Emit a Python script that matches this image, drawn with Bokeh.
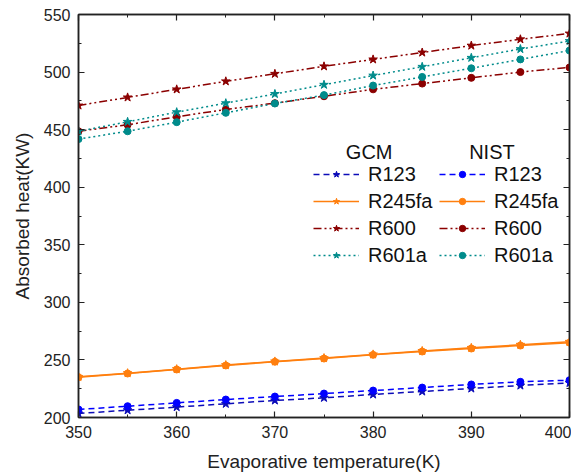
from bokeh.plotting import figure
from bokeh.models import (Legend, LegendItem, LinearAxis, Label, Range1d, FixedTicker,
                          CustomJSTickFormatter)
from bokeh.embed import file_html
from bokeh.resources import INLINE

T = [350, 355, 360, 365, 370, 375, 380, 385, 390, 395, 400]
gcm_r123 = [203.5, 206.3, 209.0, 211.9, 214.8, 217.1, 220.0, 222.6, 225.2, 227.8, 230.0]
nist_r123 = [207.0, 209.8, 212.7, 215.6, 218.2, 220.8, 223.4, 226.0, 228.7, 231.0, 232.4]
gcm_r245fa = [235.3, 238.5, 242.0, 245.5, 248.7, 251.6, 254.8, 257.8, 260.5, 263.2, 265.8]
nist_r245fa = [235.0, 238.2, 241.7, 245.2, 248.4, 251.2, 254.4, 257.3, 259.9, 262.5, 265.0]
gcm_r600 = [471.0, 478.0, 485.0, 492.0, 498.5, 505.0, 511.0, 517.0, 523.0, 528.5, 533.5]
nist_r600 = [448.6, 454.2, 461.2, 467.5, 473.0, 479.0, 485.0, 490.0, 495.0, 500.0, 504.0]
gcm_r601a = [448.6, 456.8, 465.2, 473.0, 481.0, 489.0, 497.0, 504.6, 512.4, 520.0, 527.0]
nist_r601a = [441.8, 448.6, 456.5, 464.6, 472.7, 480.0, 488.3, 495.8, 503.3, 511.0, 518.7]
names = ["R123", "R245fa", "R600", "R601a"]
x_ticks = [350, 360, 370, 380, 390, 400]
x_minor = [355, 365, 375, 385, 395]
y_ticks = [200, 250, 300, 350, 400, 450, 500, 550]
y_minor = [225, 275, 325, 375, 425, 475, 525]

FONT = "Liberation Sans"

p = figure(frame_width=491, frame_height=403, output_backend="svg", toolbar_location=None,
           x_range=Range1d(350, 400), y_range=Range1d(200, 550),
           min_border_left=78, min_border_right=2, min_border_top=14, min_border_bottom=50)
p.xgrid.visible = False
p.ygrid.visible = False
p.outline_line_color = "#222222"
p.outline_line_width = 1.5

def style_axis(ax, labels=True):
    ax.axis_line_color = "#222222"
    ax.axis_line_width = 1.5
    ax.major_tick_in = 6
    ax.major_tick_out = 0
    ax.minor_tick_in = 3
    ax.minor_tick_out = 0
    ax.major_tick_line_color = "#222222"
    ax.minor_tick_line_color = "#222222"
    ax.major_tick_line_width = 1.2
    ax.minor_tick_line_width = 1.0
    if labels:
        ax.major_label_text_font = FONT
        ax.major_label_text_font_size = "16px"
        ax.major_label_text_color = "#222222"
        ax.axis_label_text_font = FONT
        ax.axis_label_text_font_size = "19px"
        ax.axis_label_text_font_style = "normal"
        ax.axis_label_text_color = "#222222"
    else:
        ax.formatter = CustomJSTickFormatter(code="return '';")
        ax.major_label_standoff = 0

style_axis(p.xaxis[0])
style_axis(p.yaxis[0])
p.xaxis.axis_label = "Evaporative temperature(K)"
p.yaxis.axis_label = "Absorbed heat(KW)"
p.xaxis.major_label_standoff = 8
p.yaxis.major_label_standoff = 8
p.xaxis.axis_label_standoff = 10
p.yaxis.axis_label_standoff = 8
p.xaxis.ticker = FixedTicker(ticks=x_ticks, minor_ticks=x_minor)
p.yaxis.ticker = FixedTicker(ticks=y_ticks, minor_ticks=y_minor)

top = LinearAxis(ticker=FixedTicker(ticks=x_ticks, minor_ticks=x_minor))
style_axis(top, labels=False)
p.add_layout(top, "above")
right = LinearAxis(ticker=FixedTicker(ticks=y_ticks, minor_ticks=y_minor))
style_axis(right, labels=False)
p.add_layout(right, "right")

colors_g = ["#0c0cb8", "#ff7f0e", "#8b0000", "#008b8b"]
colors_n = ["#0000ff", "#ff7f0e", "#8b0000", "#008b8b"]
dashes = ["6 4", "solid", "8 3 2 3 2 3", "2 3"]
gcm = [gcm_r123, gcm_r245fa, gcm_r600, gcm_r601a]
nist = [nist_r123, nist_r245fa, nist_r600, nist_r601a]

items_g, items_n = [], []
for i in range(4):
    lg = p.line(T, gcm[i], line_color=colors_g[i], line_dash=dashes[i], line_width=1.5)
    sg = p.scatter(T, gcm[i], marker="star", size=9, fill_color=colors_g[i], line_color=colors_g[i])
    ln = p.line(T, nist[i], line_color=colors_n[i], line_dash=dashes[i], line_width=1.5)
    sn = p.scatter(T, nist[i], marker="circle", size=7, fill_color=colors_n[i], line_color=colors_n[i])
    items_g.append(LegendItem(label=names[i], renderers=[lg, sg]))
    items_n.append(LegendItem(label=names[i], renderers=[ln, sn]))

def make_legend(items, loc):
    return Legend(items=items, location=loc, padding=0, margin=0, spacing=3,
                  border_line_color=None, background_fill_alpha=0,
                  glyph_width=46, glyph_height=16, label_height=24, label_standoff=9,
                  label_text_font=FONT, label_text_font_size="20px", label_text_color="#111111")

p.add_layout(make_legend(items_g, (235, 150)))
p.add_layout(make_legend(items_n, (361, 150)))

for txt, xv in [("GCM", 379.6), ("NIST", 392.1)]:
    p.add_layout(Label(x=xv, y=431, text=txt, text_align="center", text_baseline="middle",
                       text_font=FONT, text_font_size="20px", text_color="#111111"))

open("out.html", "w").write(file_html(p, INLINE))
